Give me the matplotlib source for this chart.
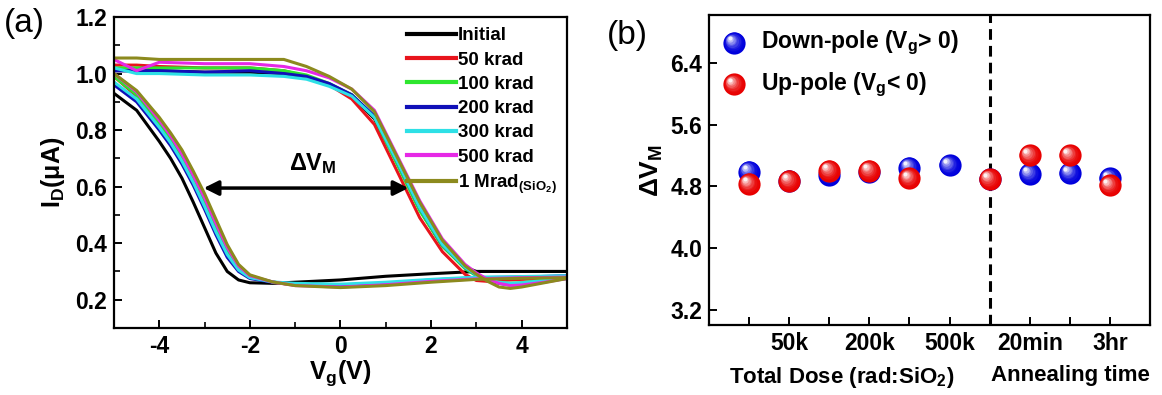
import numpy as np
import matplotlib
matplotlib.use("Agg")
import matplotlib.pyplot as plt
from matplotlib.colors import to_rgb
from matplotlib.transforms import ScaledTranslation

plt.rcParams['font.family'] = ['Liberation Sans', 'DejaVu Sans']
plt.rcParams['font.weight'] = 'bold'
plt.rcParams['axes.labelweight'] = 'bold'
plt.rcParams['axes.unicode_minus'] = False
plt.rcParams['mathtext.fontset'] = 'custom'
plt.rcParams['mathtext.rm'] = 'Liberation Sans:bold'
plt.rcParams['mathtext.it'] = 'Liberation Sans:bold'
plt.rcParams['mathtext.bf'] = 'Liberation Sans:bold'
plt.rcParams['mathtext.sf'] = 'Liberation Sans:bold'
plt.rcParams['mathtext.default'] = 'rm'

# ---- (a) transfer curves, two sweep branches per dose ----
vg_fwd = [-5, -4.5, -4, -3.75, -3.5, -3.25, -3, -2.75, -2.5, -2.25, -2, -1.5, -1, 0, 1, 2, 3, 4, 5]
vg_rev = [-5, -4.5, -4, -3, -2, -1.25, -0.75, -0.25, 0.25, 0.75, 1.25, 1.75, 2.25, 2.75,
          3.0, 3.25, 3.5, 3.75, 4, 4.5, 5]

doses = ["Initial", "50 krad", "100 krad", "200 krad", "300 krad", "500 krad",
         r"1 Mrad$_{(SiO_2)}$"]
colors = ["#000000", "#e8141c", "#2ee62e", "#1010b8", "#2ee0e6", "#e628e6", "#8c8a1e"]

id_fwd = [
    [0.93, 0.87, 0.76, 0.70, 0.63, 0.545, 0.455, 0.365, 0.30, 0.27, 0.26, 0.258, 0.262, 0.27, 0.283, 0.292, 0.30, 0.30, 0.30],
    [0.99, 0.92, 0.82, 0.765, 0.70, 0.625, 0.545, 0.455, 0.37, 0.31, 0.28, 0.262, 0.252, 0.248, 0.255, 0.265, 0.275, 0.28, 0.283],
    [0.99, 0.925, 0.825, 0.77, 0.705, 0.63, 0.55, 0.46, 0.375, 0.315, 0.282, 0.263, 0.252, 0.247, 0.255, 0.266, 0.276, 0.28, 0.283],
    [0.96, 0.90, 0.80, 0.745, 0.68, 0.605, 0.52, 0.43, 0.35, 0.30, 0.275, 0.262, 0.255, 0.25, 0.258, 0.27, 0.278, 0.28, 0.285],
    [0.97, 0.91, 0.81, 0.755, 0.69, 0.615, 0.53, 0.44, 0.36, 0.305, 0.278, 0.263, 0.258, 0.255, 0.262, 0.272, 0.28, 0.282, 0.285],
    [1.0, 0.935, 0.835, 0.78, 0.715, 0.64, 0.56, 0.47, 0.385, 0.32, 0.285, 0.263, 0.25, 0.245, 0.253, 0.265, 0.274, 0.278, 0.28],
    [1.0, 0.94, 0.845, 0.79, 0.73, 0.655, 0.575, 0.485, 0.395, 0.325, 0.288, 0.263, 0.25, 0.243, 0.25, 0.262, 0.272, 0.276, 0.278],
]
id_rev = [
    [1.01, 1.01, 1.01, 1.005, 1.005, 1.0, 0.985, 0.96, 0.92, 0.84, 0.685, 0.52, 0.39, 0.315, 0.30, 0.30, 0.30, 0.30, 0.30, 0.30, 0.30],
    [1.03, 1.03, 1.025, 1.02, 1.02, 1.01, 0.99, 0.96, 0.91, 0.82, 0.655, 0.49, 0.37, 0.29, 0.268, 0.265, 0.268, 0.27, 0.272, 0.275, 0.278],
    [1.02, 1.02, 1.02, 1.02, 1.02, 1.01, 0.995, 0.965, 0.925, 0.845, 0.68, 0.515, 0.39, 0.31, 0.285, 0.27, 0.26, 0.258, 0.26, 0.27, 0.278],
    [1.01, 1.01, 1.01, 1.005, 1.01, 1.0, 0.99, 0.965, 0.925, 0.85, 0.69, 0.525, 0.395, 0.315, 0.288, 0.27, 0.258, 0.252, 0.255, 0.265, 0.275],
    [1.02, 1.0, 1.0, 0.995, 0.995, 0.99, 0.98, 0.955, 0.92, 0.845, 0.69, 0.525, 0.395, 0.315, 0.288, 0.272, 0.262, 0.258, 0.26, 0.268, 0.278],
    [1.05, 1.01, 1.04, 1.035, 1.035, 1.025, 1.01, 0.985, 0.945, 0.87, 0.71, 0.55, 0.415, 0.325, 0.295, 0.272, 0.258, 0.25, 0.252, 0.262, 0.275],
    [1.055, 1.055, 1.05, 1.05, 1.05, 1.05, 1.025, 0.99, 0.945, 0.865, 0.705, 0.545, 0.41, 0.32, 0.29, 0.265, 0.245, 0.24, 0.245, 0.26, 0.275],
]

# memory window arrow (Vg at I_D ~ 0.6 uA on each branch)
arrow_left, arrow_right, arrow_level = -3.02, 1.5, 0.595

# ---- (b) memory window vs dose / anneal ----
steps = np.arange(10)
step_labels = ["", "50k", "", "200k", "", "500k", "", "20min", "", "3hr"]
dv_down = [4.99, 4.87, 4.95, 4.99, 5.04, 5.07, 4.89, 4.96, 4.97, 4.90]
dv_up = [4.83, 4.87, 5.00, 5.00, 4.90, np.nan, 4.89, 5.20, 5.20, 4.81]
anneal_start = 6


def mix(c, f):
    r, g, b = to_rgb(c)
    return (r + (1 - r) * f, g + (1 - g) * f, b + (1 - b) * f)


def spheres(ax, x, y, color, d=16, transform=None, z=3):
    """scatter with a shaded highlight so the dots look like balls"""
    if transform is None:
        transform = ax.transData
    fig = ax.figure
    for f in np.linspace(0, 1, 9):
        shift = ScaledTranslation(-0.2 * d * f / 72, 0.2 * d * f / 72, fig.dpi_scale_trans)
        ax.scatter(x, y, s=(d * (1 - 0.82 * f)) ** 2, color=mix(color, 0.95 * f ** 2),
                   lw=0, transform=transform + shift, zorder=z, clip_on=False)


fig = plt.figure(figsize=(11.62, 3.95), dpi=100)
ax1 = fig.add_axes([0.0981, 0.1696, 0.3898, 0.7873])
ax2 = fig.add_axes([0.6102, 0.1772, 0.3795, 0.7848])

for lab, col, yf, yr in zip(doses, colors, id_fwd, id_rev):
    ax1.plot(vg_fwd, yf, color=col, lw=2.2, label=lab, solid_joinstyle='round')
    ax1.plot(vg_rev, yr, color=col, lw=2.2, solid_joinstyle='round')

ax1.annotate('', xy=(arrow_right, arrow_level), xytext=(arrow_left, arrow_level),
             arrowprops=dict(arrowstyle='<|-|>', lw=2.5, color='k', mutation_scale=22,
                             shrinkA=0, shrinkB=0))
ax1.text((arrow_left + arrow_right) / 2 + 0.15, arrow_level + 0.085, r'$\Delta$V$_M$',
         ha='center', va='center', fontsize=17)

ax1.set_xlim(-5, 5)
ax1.set_ylim(0.1, 1.2)
ax1.set_xticks([-4, -2, 0, 2, 4])
ax1.set_xticks([-3, -1, 1, 3], minor=True)
ax1.set_yticks([0.2, 0.4, 0.6, 0.8, 1.0, 1.2])
ax1.set_yticks([0.3, 0.5, 0.7, 0.9, 1.1], minor=True)
ax1.yaxis.set_major_formatter(plt.FormatStrFormatter('%.1f'))
ax1.set_xlabel(r'V$_g$(V)', fontsize=18, labelpad=0)
ax1.set_ylabel(r'I$_D$($\mu$A)', fontsize=18, labelpad=6)
leg = ax1.legend(loc='upper right', bbox_to_anchor=(1.0, 1.0), frameon=False, fontsize=13.5,
                 handlelength=2.6, handletextpad=0.1, labelspacing=0.38, borderaxespad=0.15)
for line in leg.get_lines():
    line.set_linewidth(3)

ax2.axvline(anneal_start, color='k', lw=2.2, ls=(0, (3.5, 2)), zorder=2)
spheres(ax2, steps, dv_down, '#0000dc')
spheres(ax2, steps, dv_up, '#e80000', z=4)

ax2.set_xlim(-1, 10)
ax2.set_ylim(3.0, 7.02)
ax2.set_xticks(steps)
ax2.set_xticklabels(step_labels)
ax2.set_yticks([3.2, 4.0, 4.8, 5.6, 6.4])
ax2.yaxis.set_major_formatter(plt.FormatStrFormatter('%.1f'))
ax2.set_ylabel(r'$\Delta$V$_M$', fontsize=19, labelpad=4)
ax2.text(0.30, -0.13, r'Total Dose (rad:SiO$_2$)', transform=ax2.transAxes,
         ha='center', va='top', fontsize=16)
ax2.text(0.82, -0.13, 'Annealing time', transform=ax2.transAxes,
         ha='center', va='top', fontsize=16)

# legend for (b), drawn with the same shaded dots
spheres(ax2, [0.057], [0.91], '#0000dc', transform=ax2.transAxes)
spheres(ax2, [0.057], [0.776], '#e80000', transform=ax2.transAxes)
ax2.text(0.118, 0.91, r'Down-pole (V$_g$> 0)', transform=ax2.transAxes,
         ha='left', va='center', fontsize=16.5)
ax2.text(0.118, 0.776, r'Up-pole (V$_g$< 0)', transform=ax2.transAxes,
         ha='left', va='center', fontsize=16.5)

for ax in (ax1, ax2):
    for sp in ax.spines.values():
        sp.set_linewidth(1.6)
    ax.tick_params(which='major', direction='in', length=6, width=1.4, labelsize=16.5, pad=5)
    ax.tick_params(which='minor', direction='in', length=4, width=1.2)

fig.text(0.003, 0.94, '(a)', fontsize=24, fontweight='normal', va='center')
fig.text(0.522, 0.91, '(b)', fontsize=24, fontweight='normal', va='center')

fig.canvas.draw()
for ax in (ax1, ax2):
    for t in ax.get_xticklabels() + ax.get_yticklabels():
        t.set_fontweight('bold')

fig.savefig('out.png', dpi=100)
